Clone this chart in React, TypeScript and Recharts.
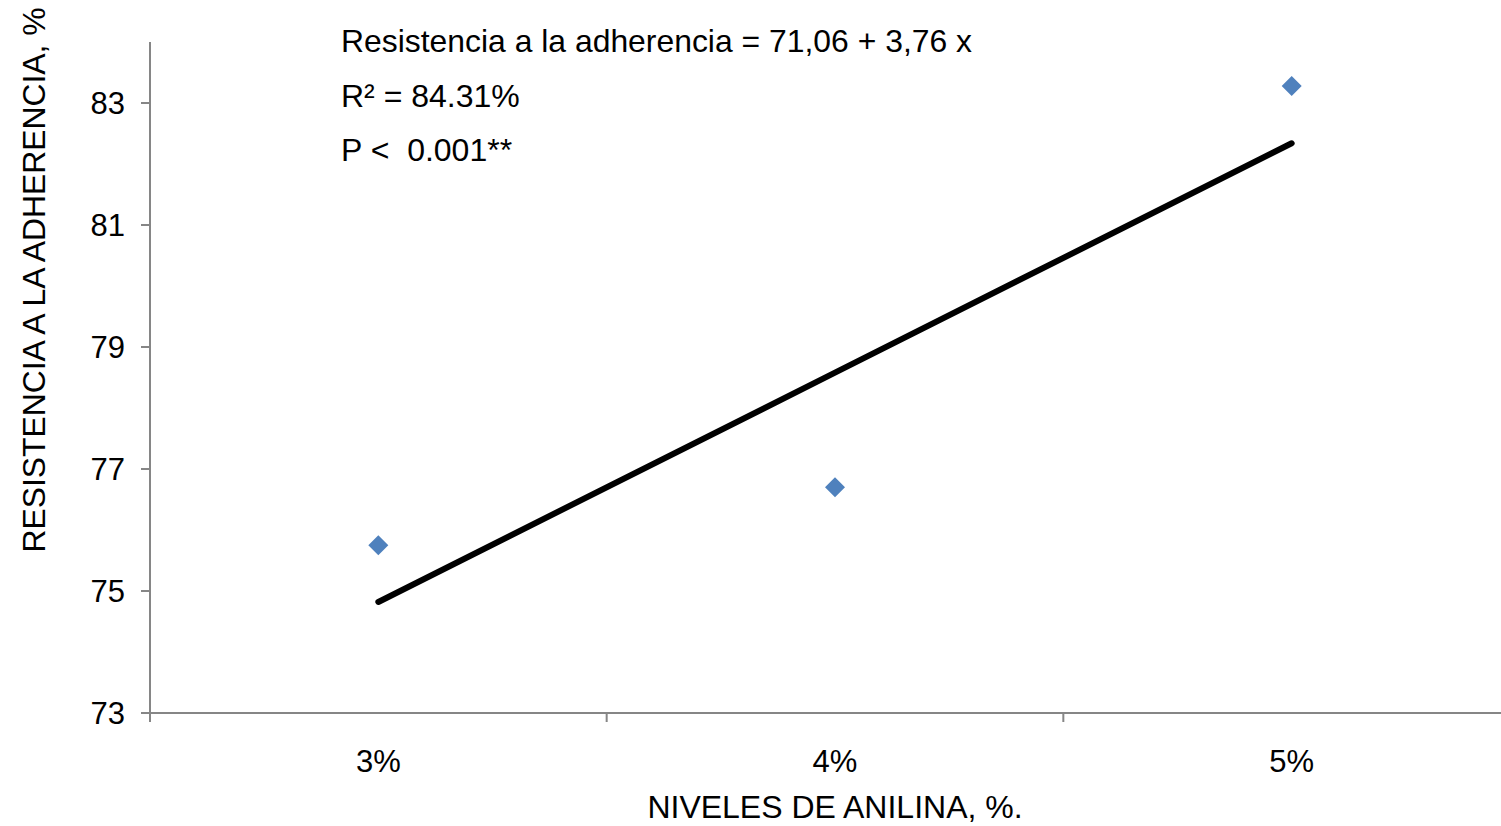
import { ComposedChart, Scatter, Line, XAxis, YAxis } from "recharts";

const levels = [3, 4, 5];
const levelLabels = ["3%", "4%", "5%"];
const observed = [75.75, 76.7, 83.28];
const fitted = [74.82, 78.58, 82.34];
const yTicks = [73, 75, 77, 79, 81, 83];
const xTicks = [2.5, 3, 3.5, 4, 4.5, 5, 5.5];

const FONT = "'Liberation Sans', Arial, sans-serif";
const AXIS = "#868686";

const data = levels.map((x, i) => ({ x, obs: observed[i], fit: fitted[i] }));

const XTick = ({ x, y, payload }: any) => {
  const v = payload.value;
  const i = levels.indexOf(v);
  if (i >= 0) {
    return (
      <text x={x} y={y + 59} textAnchor="middle" fontSize={31} fontFamily={FONT} fill="#000">
        {levelLabels[i]}
      </text>
    );
  }
  return <line x1={x} x2={x} y1={y} y2={y + 9} stroke={AXIS} strokeWidth={2} />;
};

const Diamond = ({ cx, cy }: any) => (
  <polygon points={`${cx},${cy - 10} ${cx + 10},${cy} ${cx},${cy + 10} ${cx - 10},${cy}`} fill="#4F81BD" />
);

export default function App() {
  return (
    <div style={{ position: "absolute", left: 0, top: 0, width: 1501, height: 826, overflow: "hidden", background: "#fff" }}>
      <ComposedChart width={1530} height={826} data={data} margin={{ top: 42, right: 10, bottom: 0, left: 0 }}>
        <XAxis dataKey="x" type="number" domain={[2.5, 5.5]} ticks={xTicks} interval={0}
          height={113} tickSize={0} tickMargin={0} tickLine={false}
          axisLine={{ stroke: AXIS, strokeWidth: 2 }} tick={<XTick />} />
        <YAxis type="number" domain={[73, 84]} ticks={yTicks} interval={0} width={150}
          tickSize={9} tickMargin={16} axisLine={{ stroke: AXIS, strokeWidth: 2 }}
          tickLine={{ stroke: AXIS, strokeWidth: 2 }}
          tick={{ fill: "#000", fontSize: 31, fontFamily: FONT }} />
        <Line dataKey="fit" stroke="#000" strokeWidth={6} strokeLinecap="round" dot={false}
          activeDot={false} isAnimationActive={false} />
        <Scatter dataKey="obs" shape={<Diamond />} isAnimationActive={false} />
      </ComposedChart>
      <svg width={1501} height={826} style={{ position: "absolute", left: 0, top: 0, pointerEvents: "none" }}
        fontFamily={FONT} fontSize={32} fill="#000">
        <text x={341} y={52} textLength={631} lengthAdjust="spacingAndGlyphs">Resistencia a la adherencia = 71,06 + 3,76 x</text>
        <text x={341} y={107}>R² = 84.31%</text>
        <text x={341} y={161} style={{ whiteSpace: "pre" }}>P {"<"}  0.001**</text>
        <text x={835} y={818} textAnchor="middle">NIVELES DE ANILINA, %.</text>
        <text transform="translate(45,280) rotate(-90)" textAnchor="middle" fontSize={31}
          textLength={545} lengthAdjust="spacingAndGlyphs">RESISTENCIA A LA ADHERENCIA, %</text>
      </svg>
    </div>
  );
}
